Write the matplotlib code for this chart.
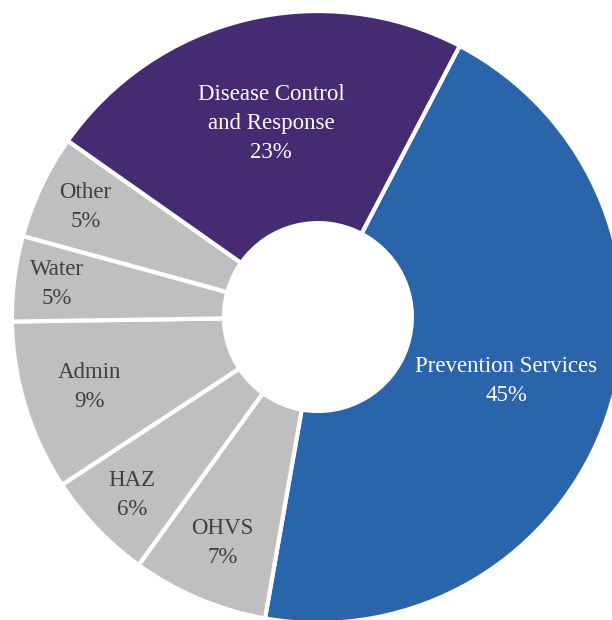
import matplotlib
matplotlib.use('Agg')
import matplotlib.pyplot as plt
import numpy as np

# dados (fatias em sentido horário a partir da fronteira superior direita)
categorias = ['Prevention Services', 'OHVS', 'HAZ', 'Admin', 'Water', 'Other',
              'Disease Control\nand Response']
valores = [45.1, 7.2, 5.8, 9.0, 4.5, 5.5, 22.9]
rotulos_pct = ['45%', '7%', '6%', '9%', '5%', '5%', '23%']

cores = ['#2A64AB', '#BFBFBF', '#BFBFBF', '#BFBFBF', '#BFBFBF', '#BFBFBF', '#462B72']
cores_texto = ['white', '#404040', '#404040', '#404040', '#404040', '#404040', 'white']
raio_rotulo = [0.65, 0.80, 0.84, 0.78, 0.86, 0.84, 0.65]

fig = plt.figure(figsize=(6.12, 6.20), dpi=100)
ax = fig.add_axes([0, 0, 1, 1])

wedges, _ = ax.pie(
    valores,
    colors=cores,
    startangle=90 - 27.6,
    counterclock=False,
    radius=1.0,
    wedgeprops=dict(width=0.693, edgecolor='white', linewidth=3),
)

for w, cat, pct, cor, r in zip(wedges, categorias, rotulos_pct, cores_texto, raio_rotulo):
    ang = np.deg2rad((w.theta1 + w.theta2) / 2)
    ax.text(r * np.cos(ang), r * np.sin(ang), f'{cat}\n{pct}',
            ha='center', va='center', color=cor, fontsize=16.5,
            family='Liberation Serif', linespacing=1.5)

ax.set_xlim(-1.039, 0.961)
ax.set_ylim(-0.990, 1.036)
ax.axis('off')

fig.savefig('out.png', dpi=100)
